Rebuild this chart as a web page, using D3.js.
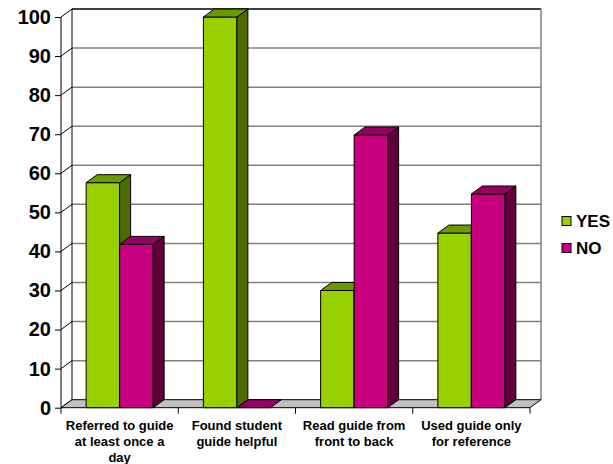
<!DOCTYPE html>
<html>
<head>
<meta charset="utf-8">
<script src="https://cdn.jsdelivr.net/npm/d3@7"></script>
<style>
  body { margin: 0; background: #fff; }
  svg { display: block; font-family: "Liberation Sans", Arial, sans-serif; font-weight: bold; }
</style>
</head>
<body>
<div id="chart"></div>
<script>
// chart data
const categories = ["Referred to guide at least once a day", "Found student guide helpful", "Read guide from front to back", "Used guide only for reference"];
const categoryLines = [
  ["Referred to guide", "at least once a", "day"],
  ["Found student", "guide helpful"],
  ["Read guide from", "front to back"],
  ["Used guide only", "for reference"]
];
const seriesNames = ["YES", "NO"];
const yesValues = [57.6, 100, 30, 44.7];
const noValues = [41.8, 0, 69.8, 54.7];
const yTicks = [0, 10, 20, 30, 40, 50, 60, 70, 80, 90, 100];

const colors = {
  YES: { front: "#99d100", top: "#6b9900", side: "#4c6b00" },
  NO: { front: "#c8007f", top: "#960062", side: "#5f003d" }
};

let svg = d3.select("#chart").append("svg")
  .attr("width", 613)
  .attr("height", 464);

// depth offset for the pseudo 3D
const dx = 11, dy = -8;

let x = d3.scaleBand().domain(categories).range([61, 530]).padding(0);
let sub = d3.scaleBand().domain(seriesNames).range([0, x.bandwidth()]).paddingInner(0).paddingOuter(0.75);
let y = d3.scaleLinear().domain([0, 100]).range([407.7, 17]);

let x0 = x.range()[0], x1 = x.range()[1];

// back wall
svg.append("rect")
  .attr("x", x0 + dx).attr("y", y(100) + dy)
  .attr("width", x1 - x0).attr("height", y(0) - y(100))
  .attr("fill", "#fff");

// gridlines on back wall + left wall
let grid = svg.append("g");
grid.selectAll("line.back")
  .data(yTicks.filter(d => d > 0))
  .enter().append("line")
  .attr("x1", x0 + dx).attr("x2", x1 + dx)
  .attr("y1", d => y(d) + dy).attr("y2", d => y(d) + dy)
  .attr("stroke", d => d === 100 ? "#000" : "#808080")
  .attr("stroke-width", 1.5);
grid.selectAll("line.side")
  .data(yTicks)
  .enter().append("line")
  .attr("x1", x0).attr("x2", x0 + dx)
  .attr("y1", d => y(d)).attr("y2", d => y(d) + dy)
  .attr("stroke", "#000")
  .attr("stroke-width", 1);

// wall edges
svg.append("line")
  .attr("x1", x0 + dx).attr("x2", x0 + dx)
  .attr("y1", y(100) + dy).attr("y2", y(0) + dy)
  .attr("stroke", "#000");
svg.append("line")
  .attr("x1", x1 + dx).attr("x2", x1 + dx)
  .attr("y1", y(100) + dy).attr("y2", y(0) + dy)
  .attr("stroke", "#808080").attr("stroke-width", 1.5);

// floor
svg.append("path")
  .attr("d", `M${x0},${y(0)}L${x1},${y(0)}L${x1 + dx},${y(0) + dy}L${x0 + dx},${y(0) + dy}Z`)
  .attr("fill", "#c0c0c0")
  .attr("stroke", "#000")
  .attr("stroke-width", 1);

// bars
let rows = categories.map((c, i) => ({ cat: c, values: [yesValues[i], noValues[i]] }));
let bars = svg.append("g");
rows.forEach(r => {
  seriesNames.forEach((s, j) => {
    let v = r.values[j];
    let bx = x(r.cat) + sub(s);
    let bw = sub.bandwidth();
    let top = y(v), base = y(0);
    let g = bars.append("g").attr("stroke", "#000").attr("stroke-width", 1).attr("stroke-linejoin", "round");
    if (base - top > 0) {
      g.append("rect")
        .attr("x", bx).attr("y", top)
        .attr("width", bw).attr("height", base - top)
        .attr("fill", colors[s].front);
      g.append("path")
        .attr("d", `M${bx + bw},${top}L${bx + bw + dx},${top + dy}L${bx + bw + dx},${base + dy}L${bx + bw},${base}Z`)
        .attr("fill", colors[s].side);
    }
    g.append("path")
      .attr("d", `M${bx},${top}L${bx + dx},${top + dy}L${bx + bw + dx},${top + dy}L${bx + bw},${top}Z`)
      .attr("fill", colors[s].top);
  });
});

// y axis
let yAxis = svg.append("g")
  .attr("transform", `translate(${x0},0)`)
  .call(d3.axisLeft(y).tickValues(yTicks).tickSize(6).tickPadding(4));
yAxis.select(".domain").attr("stroke", "#000").attr("d", `M0,${y(100)}V${y(0)}`);
yAxis.selectAll(".tick line").attr("stroke", "#000");
yAxis.selectAll(".tick text")
  .attr("font-size", 20)
  .attr("font-family", "Liberation Sans, Arial, sans-serif")
  .attr("font-weight", "bold")
  .attr("fill", "#000");

// category ticks + labels
let xAxis = svg.append("g");
xAxis.selectAll("line")
  .data(categories.map(c => x(c)).concat([x1]))
  .enter().append("line")
  .attr("x1", d => d).attr("x2", d => d)
  .attr("y1", y(0)).attr("y2", y(0) + 6)
  .attr("stroke", "#000");
xAxis.selectAll("text")
  .data(categories)
  .enter().append("text")
  .attr("text-anchor", "middle")
  .attr("font-size", 13)
  .attr("fill", "#000")
  .each(function (d, i) {
    d3.select(this).selectAll("tspan")
      .data(categoryLines[i])
      .enter().append("tspan")
      .attr("x", x(d) + x.bandwidth() / 2)
      .attr("y", (t, k) => 430 + k * 16)
      .text(t => t);
  });

// legend
let legend = svg.append("g");
seriesNames.forEach((s, i) => {
  let ly = 221 + i * 27;
  legend.append("rect")
    .attr("x", 562).attr("y", ly - 4.5)
    .attr("width", 9).attr("height", 9)
    .attr("fill", colors[s].front)
    .attr("stroke", "#000");
  legend.append("text")
    .attr("x", 576).attr("y", ly + 6)
    .attr("font-size", 17)
    .attr("fill", "#000")
    .text(s);
});
</script>
</body>
</html>
